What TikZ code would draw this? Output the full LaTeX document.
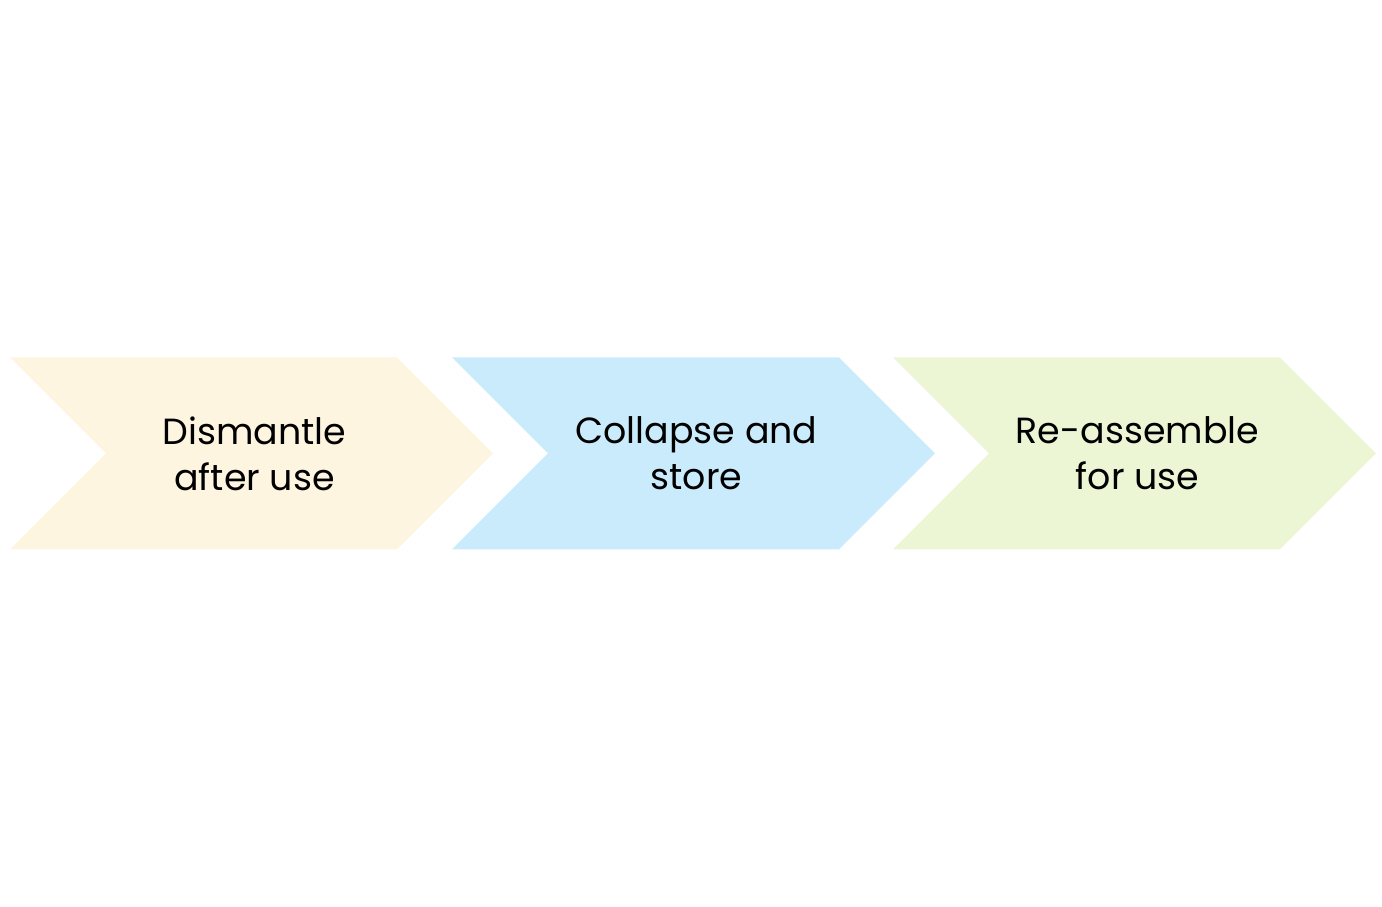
\documentclass[tikz,border=0pt]{standalone}
\usepackage{fontspec}
\setmainfont{Poppins}
\usepackage{tikz}
\definecolor{chevYellow}{HTML}{FDF5DF}
\definecolor{chevBlue}{HTML}{CAEBFB}
\definecolor{chevGreen}{HTML}{ECF6D5}
\tikzset{
  chevlabel/.style={align=center, font=\fontsize{10.35}{13.1}\selectfont, inner sep=0pt}
}
\begin{document}
\begin{tikzpicture}
      \useasboundingbox (0,0) rectangle (13.82,9.07);
      \pgfmathsetmacro{\w}{3.87}
      \pgfmathsetmacro{\d}{0.96}
      \pgfmathsetmacro{\top}{5.495}
      \pgfmathsetmacro{\bot}{3.575}
      \pgfmathsetmacro{\mid}{(\top+\bot)/2}
      % Chevrons with their labels
      \foreach \x/\col/\name/\txt in {
          0.10/chevYellow/dismantle/{Dismantle\\after use},
          4.52/chevBlue/collapse/{Collapse and\\store},
          8.93/chevGreen/reassemble/{Re-assemble\\for use}} {
        \fill[\col] (\x,\top) -- ({\x+\w},\top) -- ({\x+\w+\d},\mid)
          -- ({\x+\w},\bot) -- (\x,\bot) -- ({\x+\d},\mid) -- cycle;
        \node[chevlabel] (\name) at ({\x+(\w+\d)/2+0.03},{\mid}) {\txt};
      }
    \end{tikzpicture}
\end{document}
